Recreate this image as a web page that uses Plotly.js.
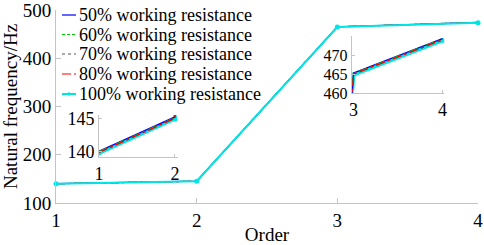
<!DOCTYPE html>
<html><head><meta charset="utf-8">
<script src="https://cdn.plot.ly/plotly-3.0.1.min.js"></script>
<style>html,body{margin:0;padding:0;background:#fff}</style>
</head><body><div id="chart" style="width:484px;height:245px"></div>
<script>
const orders = [1, 2, 3, 4];
const seriesNames = ['50% working resistance','60% working resistance','70% working resistance','80% working resistance','100% working resistance'];
const f50  = [140.1, 145.3, 465.3, 474.3];
const f60  = [140.0, 145.2, 465.2, 474.2];
const f70  = [139.95, 145.15, 465.1, 474.1];
const f80  = [139.9, 145.1, 465.0, 474.0];
const f100 = [139.8, 145.0, 464.8, 473.8];
const xTicks = [1, 2, 3, 4];
const yTicks = [100, 200, 300, 400, 500];
const inset1Ticks = [140, 145];
const inset2Ticks = [460, 465, 470];

const values = [f50, f60, f70, f80, f100];
const styles = [
  {color:'#0000ff', dash:'solid', width:1.2},
  {color:'#00cc00', dash:'dash', width:1.2},
  {color:'#555555', dash:'dot', width:1.2},
  {color:'#ff0000', dash:'dashdot', width:1.2},
  {color:'#00e5e5', dash:'solid', width:2}
];
const font = 'Liberation Serif, Times New Roman, serif';
const traces = [];
// main plot
values.forEach((v,i)=>{
  const t = {x:orders, y:v, name:seriesNames[i], type:'scatter', mode: i===4?'lines+markers':'lines',
    line:{color:styles[i].color, dash:styles[i].dash, width:styles[i].width}, cliponaxis:false,
    xaxis:'x', yaxis:'y', showlegend:false};
  if(i===4) t.marker = {size:5, color:styles[i].color};
  traces.push(t);
});
// insets: cyan first then others on top
[4,0,1,2,3].forEach(i=>{
  ['2','3'].forEach(k=>{
    traces.push({x:orders, y:values[i], type:'scatter', mode:i===4?'lines+markers':'lines', showlegend:false,
      line:{color:styles[i].color, dash:styles[i].dash, width: i===4?3.5:1.3},
      marker:{size:5,color:styles[i].color},
      xaxis:'x'+k, yaxis:'y'+k, hoverinfo:'skip'});
  });
});

// manual legend (paper coords: plot area x 56..478, y 10..203)
const px = p => (p-56)/422;
const py = p => (203-p)/193;
const legendY = [15, 34.5, 54, 74, 94];
const shapes = [];
const annotations = [];
seriesNames.forEach((name,i)=>{
  shapes.push({type:'line', xref:'paper', yref:'paper', x0:px(62), x1:px(76), y0:py(legendY[i]), y1:py(legendY[i]),
    line:{color:styles[i].color, dash:styles[i].dash==='dot'?'dot':(styles[i].dash==='dashdot'?'dashdot':(styles[i].dash==='dash'?'3px,2px':'solid')), width:i===4?2:1.2}});
  annotations.push({xref:'paper', yref:'paper', x:px(77), y:py(legendY[i]), xanchor:'left', yanchor:'middle',
    text:name, showarrow:false, font:{family:font, size:18, color:'#000'}});
});
shapes.push({type:'circle', xref:'paper', yref:'paper', x0:px(67.3), x1:px(70.7), y0:py(legendY[4]+1.7), y1:py(legendY[4]-1.7),
  fillcolor:styles[4].color, line:{color:styles[4].color, width:0}});

const axBase = {showgrid:false, zeroline:false, showline:true, linecolor:'#c4c4c4', linewidth:1,
  ticks:'inside', tickcolor:'#c4c4c4', ticklen:5, ticklabeloverflow:'allow',
  tickfont:{family:font, size:19, color:'#000'}};
const insetFont = {family:font, size:18, color:'#000'};
const inset2Font = {family:font, size:16, color:'#000'};
const layout = {
  width:484, height:245, margin:{l:56, r:6, t:10, b:42},
  paper_bgcolor:'#fff', plot_bgcolor:'#fff', font:{family:font, color:'#000'},
  showlegend:false, shapes:shapes, annotations:annotations,
  xaxis:Object.assign({}, axBase, {range:[1,4], tickvals:xTicks, domain:[0,1],
    title:{text:'Order', font:{family:font, size:19}, standoff:0}}),
  yaxis:Object.assign({}, axBase, {range:[100,500], tickvals:yTicks, domain:[0,1],
    title:{text:'Natural frequency/Hz', font:{family:font, size:19}, standoff:0}}),
  xaxis2:Object.assign({}, axBase, {range:[1,2.04], tickvals:xTicks, domain:[0.102,0.289], anchor:'y2', ticklen:3, tickfont:insetFont}),
  yaxis2:Object.assign({}, axBase, {range:[139.2,145.6], tickvals:inset1Ticks, domain:[0.238,0.456], anchor:'x2', ticklen:3, tickfont:insetFont}),
  xaxis3:Object.assign({}, axBase, {range:[2.98,4.02], tickvals:xTicks, domain:[0.701,0.92], anchor:'y3', ticklen:3, tickfont:insetFont}),
  yaxis3:Object.assign({}, axBase, {range:[460,475], tickvals:inset2Ticks, domain:[0.570,0.865], anchor:'x3', ticklen:3, tickfont:inset2Font})
};
Plotly.newPlot('chart', traces, layout, {displayModeBar:false, staticPlot:true});
</script></body></html>
